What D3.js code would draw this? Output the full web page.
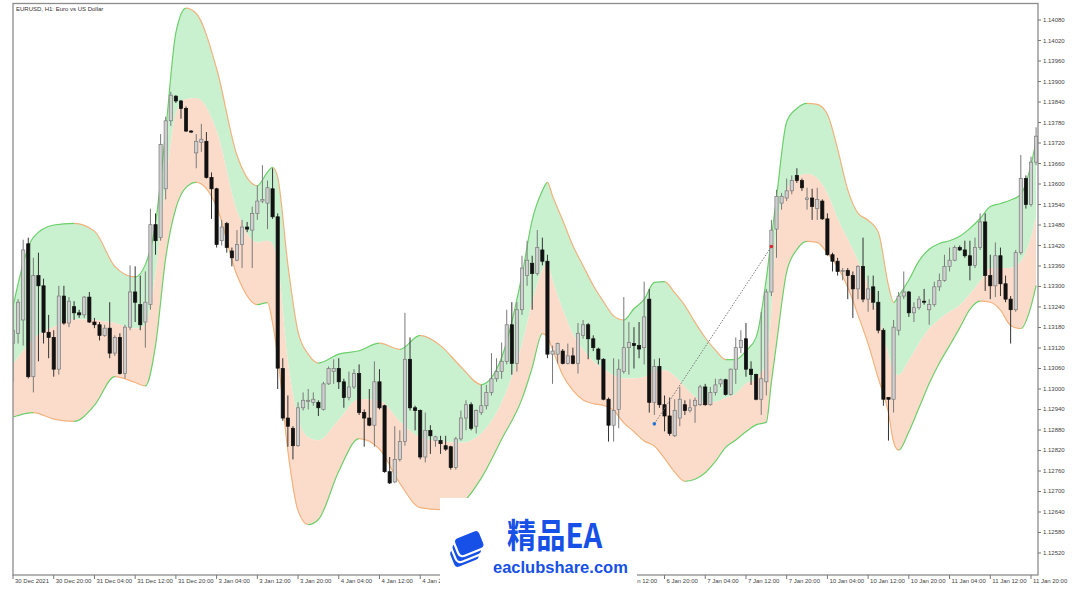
<!DOCTYPE html>
<html><head><meta charset="utf-8">
<script src="https://cdn.jsdelivr.net/npm/d3@7"></script>
<style>
body{margin:0;background:#fff;}
svg{display:block;}
</style>
</head><body>
<svg id="chart" width="1080" height="604"></svg>
<script>
// ---------- DATA (EURUSD H1) ----------
const opens=[1.13133,1.13163,1.13202,1.13425,1.13036,1.13332,1.13302,1.13166,1.13151,1.13058,
1.13272,1.13193,1.13241,1.13223,1.13217,1.13269,1.13196,1.13188,1.13157,1.13178,
1.13105,1.13151,1.13045,1.13181,1.13284,1.13247,1.13196,1.13247,1.13481,1.13443,
1.13586,1.13785,1.13857,1.13843,1.13821,1.13755,1.13691,1.13722,1.13725,1.13619,
1.13586,1.13434,1.13484,1.13404,1.13377,1.13423,1.13474,1.13465,1.13514,1.13550,
1.13544,1.13586,1.13504,1.13060,1.12915,1.12885,1.12834,1.12945,1.12964,1.12961,
1.12961,1.12940,1.13015,1.13051,1.13060,1.13021,1.12975,1.13006,1.13045,1.12931,
1.12915,1.12894,1.13021,1.12951,1.12758,1.12728,1.12794,1.12846,1.13087,1.12945,
1.12937,1.12801,1.12879,1.12849,1.12849,1.12834,1.12831,1.12770,1.12854,1.12915,
1.12954,1.12891,1.12931,1.12951,1.12990,1.13030,1.13051,1.13081,1.13188,1.13075,
1.13232,1.13332,1.13368,1.13338,1.13407,1.13374,1.13102,1.13102,1.13111,1.13075,
1.13097,1.13075,1.13157,1.13188,1.13147,1.13117,1.13087,1.12970,1.12894,1.12940,
1.13051,1.13121,1.13133,1.13127,1.13121,1.13263,1.12961,1.13066,1.12954,1.12921,
1.12863,1.12915,1.12954,1.12937,1.12951,1.12954,1.13006,1.12954,1.12990,1.13015,
1.13027,1.12984,1.13058,1.13121,1.13147,1.13058,1.13042,1.12970,1.13021,1.13284,
1.13468,1.13544,1.13559,1.13580,1.13625,1.13610,1.13555,1.13559,1.13528,1.13550,
1.13498,1.13393,1.13374,1.13344,1.13347,1.13332,1.13293,1.13359,1.13263,1.13299,
1.13254,1.13172,1.12975,1.12970,1.13172,1.13272,1.13284,1.13223,1.13238,1.13257,
1.13232,1.13247,1.13299,1.13318,1.13359,1.13377,1.13414,1.13407,1.13390,1.13362,
1.13414,1.13489,1.13332,1.13302,1.13390,1.13308,1.13263,1.13232,1.13399,1.13616,
1.13540,1.13664];
const highs=[1.13241,1.13263,1.13437,1.13443,1.13384,1.13399,1.13323,1.13217,1.13172,1.13302,
1.13302,1.13269,1.13257,1.13232,1.13272,1.13284,1.13208,1.13196,1.13188,1.13254,
1.13157,1.13163,1.13188,1.13362,1.13359,1.13332,1.13344,1.13528,1.13514,1.13746,
1.13797,1.13870,1.13860,1.13846,1.13827,1.13758,1.13746,1.13776,1.13752,1.13634,
1.13589,1.13495,1.13489,1.13414,1.13465,1.13495,1.13489,1.13534,1.13595,1.13655,
1.13610,1.13646,1.13514,1.13090,1.12981,1.12891,1.12961,1.12990,1.13000,1.12990,
1.12967,1.13021,1.13066,1.13087,1.13090,1.13030,1.13051,1.13058,1.13072,1.12940,
1.13000,1.13081,1.13058,1.12954,1.12801,1.12891,1.12879,1.13223,1.13151,1.12951,
1.12940,1.12931,1.12894,1.12863,1.12863,1.12863,1.12834,1.12860,1.12937,1.12967,
1.12961,1.12940,1.13012,1.13012,1.13105,1.13090,1.13136,1.13232,1.13254,1.13254,
1.13390,1.13434,1.13390,1.13465,1.13443,1.13393,1.13127,1.13136,1.13117,1.13133,
1.13121,1.13193,1.13202,1.13193,1.13157,1.13121,1.13090,1.12975,1.13090,1.13087,
1.13269,1.13196,1.13181,1.13196,1.13314,1.13293,1.13087,1.13090,1.12981,1.12975,
1.12970,1.13006,1.12967,1.12970,1.12975,1.13012,1.13015,1.13006,1.13030,1.13030,
1.13030,1.13060,1.13151,1.13172,1.13193,1.13081,1.13045,1.13226,1.13293,1.13495,
1.13583,1.13574,1.13616,1.13625,1.13646,1.13616,1.13589,1.13586,1.13589,1.13555,
1.13514,1.13399,1.13384,1.13354,1.13354,1.13344,1.13362,1.13443,1.13332,1.13332,
1.13287,1.13178,1.12975,1.13202,1.13284,1.13344,1.13287,1.13254,1.13272,1.13293,
1.13263,1.13314,1.13338,1.13393,1.13414,1.13420,1.13420,1.13434,1.13434,1.13443,
1.13514,1.13514,1.13393,1.13429,1.13414,1.13332,1.13272,1.13407,1.13685,1.13625,
1.13680,1.13766];
const lows=[1.13021,1.13133,1.13127,1.13031,1.12990,1.13081,1.13133,1.13090,1.13036,1.13042,
1.13188,1.13181,1.13202,1.13208,1.13208,1.13193,1.13178,1.13142,1.13153,1.13090,
1.13097,1.13042,1.13031,1.13172,1.13196,1.13172,1.13121,1.13232,1.13393,1.13434,
1.13555,1.13770,1.13837,1.13791,1.13752,1.13749,1.13646,1.13694,1.13616,1.13498,
1.13414,1.13420,1.13399,1.13359,1.13374,1.13354,1.13459,1.13354,1.13495,1.13544,
1.13468,1.13498,1.13000,1.12907,1.12831,1.12794,1.12831,1.12937,1.12940,1.12951,
1.12921,1.12937,1.13012,1.13015,1.13000,1.12945,1.12967,1.13000,1.12924,1.12831,
1.12891,1.12831,1.12940,1.12755,1.12722,1.12725,1.12788,1.12834,1.12937,1.12879,
1.12794,1.12785,1.12810,1.12831,1.12810,1.12819,1.12764,1.12764,1.12849,1.12879,
1.12879,1.12870,1.12924,1.12940,1.12981,1.13021,1.13030,1.13072,1.13042,1.13051,
1.13217,1.13302,1.13232,1.13332,1.13362,1.13090,1.13015,1.13075,1.13072,1.13072,
1.13072,1.13045,1.13147,1.13087,1.13111,1.13072,1.12967,1.12846,1.12846,1.12885,
1.13045,1.13042,1.13060,1.13090,1.13072,1.12931,1.12924,1.12945,1.12876,1.12863,
1.12860,1.12891,1.12924,1.12931,1.12901,1.12951,1.12951,1.12951,1.12981,1.13006,
1.12981,1.12981,1.13015,1.13105,1.13036,1.13012,1.12967,1.12924,1.12981,1.13272,
1.13384,1.13525,1.13550,1.13570,1.13603,1.13580,1.13525,1.13495,1.13495,1.13495,
1.13390,1.13344,1.13332,1.13318,1.13263,1.13208,1.13263,1.13254,1.13226,1.13232,
1.13163,1.12951,1.12849,1.12931,1.13157,1.13263,1.13211,1.13196,1.13232,1.13247,
1.13188,1.13241,1.13287,1.13314,1.13344,1.13374,1.13404,1.13384,1.13318,1.13354,
1.13407,1.13287,1.13263,1.13269,1.13272,1.13254,1.13133,1.13226,1.13393,1.13528,
1.13534,1.13655];
const closes=[1.13172,1.13254,1.13407,1.13036,1.13332,1.13302,1.13166,1.13151,1.13058,1.13272,
1.13193,1.13257,1.13223,1.13217,1.13269,1.13196,1.13188,1.13157,1.13178,1.13105,
1.13151,1.13045,1.13181,1.13284,1.13254,1.13188,1.13254,1.13481,1.13434,1.13716,
1.13785,1.13860,1.13843,1.13821,1.13755,1.13752,1.13725,1.13731,1.13619,1.13586,
1.13423,1.13474,1.13414,1.13384,1.13423,1.13474,1.13468,1.13514,1.13550,1.13555,
1.13589,1.13504,1.13061,1.12915,1.12891,1.12834,1.12945,1.12967,1.12967,1.12970,
1.12945,1.13015,1.13060,1.13060,1.13021,1.12975,1.13006,1.13045,1.12931,1.12915,
1.12894,1.13021,1.12945,1.12758,1.12725,1.12794,1.12846,1.13087,1.12945,1.12937,
1.12801,1.12879,1.12863,1.12860,1.12840,1.12824,1.12770,1.12854,1.12915,1.12954,
1.12885,1.12937,1.12951,1.12990,1.13030,1.13051,1.13081,1.13188,1.13075,1.13232,
1.13354,1.13377,1.13338,1.13414,1.13374,1.13102,1.13111,1.13133,1.13075,1.13097,
1.13075,1.13163,1.13188,1.13147,1.13121,1.13087,1.12970,1.12894,1.12937,1.13058,
1.13121,1.13136,1.13127,1.13117,1.13211,1.12961,1.13066,1.12954,1.12921,1.12870,
1.12937,1.12970,1.12937,1.12945,1.12967,1.13006,1.12954,1.12990,1.13012,1.13027,
1.12984,1.13058,1.13121,1.13142,1.13058,1.13042,1.12970,1.13030,1.13284,1.13465,
1.13564,1.13564,1.13580,1.13610,1.13610,1.13589,1.13559,1.13534,1.13555,1.13498,
1.13393,1.13374,1.13344,1.13347,1.13332,1.13293,1.13359,1.13263,1.13293,1.13254,
1.13172,1.12970,1.12970,1.13181,1.13272,1.13284,1.13223,1.13238,1.13263,1.13254,
1.13247,1.13299,1.13318,1.13359,1.13377,1.13414,1.13407,1.13390,1.13362,1.13414,
1.13489,1.13332,1.13302,1.13390,1.13308,1.13263,1.13232,1.13399,1.13616,1.13540,
1.13664,1.13740];

// band samples (bar index -> band value)
const bandBars=[0,4,8,12,16,20,24,26,28,30,32,34,36,40,44,48,50,51,52,54,56,58,60,64,68,72,76,80,84,88,92,96,100,102,104,105,106,108,110,112,114,116,118,120,122,124,126,128,130,132,134,136,138,140,142,144,146,148,149,150,152,154,156,158,160,162,164,166,168,170,172,173,174,176,178,180,182,184,186,188,190,192,194,196,198,200,201];
const upperBand=[1.13242,1.13444,1.13480,1.13485,1.13462,1.13359,1.13328,1.13364,1.13485,1.13756,1.14043,1.14115,1.14099,1.13938,1.13684,1.13595,1.13635,1.13649,1.13620,1.13364,1.13167,1.13102,1.13076,1.13102,1.13112,1.13134,1.13116,1.13157,1.13127,1.13065,1.13013,1.13092,1.13333,1.13494,1.13580,1.13605,1.13565,1.13494,1.13419,1.13361,1.13303,1.13256,1.13214,1.13202,1.13235,1.13262,1.13312,1.13314,1.13282,1.13244,1.13195,1.13150,1.13114,1.13086,1.13086,1.13112,1.13151,1.13323,1.13444,1.13560,1.13782,1.13821,1.13836,1.13833,1.13804,1.13703,1.13583,1.13515,1.13494,1.13459,1.13303,1.13253,1.13273,1.13319,1.13375,1.13409,1.13426,1.13434,1.13447,1.13470,1.13499,1.13534,1.13543,1.13553,1.13570,1.13656,1.13726];
const middleBand=[1.13071,1.13147,1.13182,1.13204,1.13202,1.13193,1.13177,1.13188,1.13338,1.13595,1.13807,1.13849,1.13852,1.13756,1.13522,1.13429,1.13434,1.13424,1.13373,1.13081,1.12915,1.12859,1.12850,1.12910,1.12971,1.12966,1.12905,1.12859,1.12847,1.12843,1.12870,1.12961,1.13132,1.13253,1.13349,1.13368,1.13319,1.13233,1.13162,1.13116,1.13081,1.13059,1.13040,1.13031,1.13031,1.13035,1.13052,1.13055,1.13038,1.13006,1.12977,1.12961,1.12963,1.12974,1.12986,1.13016,1.13031,1.13076,1.13233,1.13464,1.13580,1.13619,1.13630,1.13617,1.13572,1.13499,1.13438,1.13375,1.13303,1.13212,1.13102,1.13049,1.13041,1.13084,1.13134,1.13176,1.13204,1.13226,1.13245,1.13278,1.13316,1.13354,1.13354,1.13355,1.13373,1.13444,1.13504];
const lowerBand=[1.12918,1.12931,1.12912,1.12905,1.12952,1.13036,1.13019,1.13009,1.13127,1.13384,1.13529,1.13590,1.13605,1.13534,1.13333,1.13247,1.13253,1.13193,1.13097,1.12819,1.12644,1.12603,1.12618,1.12759,1.12855,1.12824,1.12724,1.12653,1.12647,1.12664,1.12739,1.12853,1.12971,1.13062,1.13162,1.13151,1.13116,1.13041,1.12996,1.12968,1.12957,1.12952,1.12938,1.12901,1.12875,1.12848,1.12833,1.12797,1.12757,1.12730,1.12736,1.12755,1.12788,1.12829,1.12851,1.12875,1.12895,1.12903,1.13021,1.13132,1.13343,1.13408,1.13432,1.13429,1.13397,1.13357,1.13298,1.13217,1.13132,1.13031,1.12931,1.12845,1.12821,1.12875,1.12945,1.13016,1.13076,1.13127,1.13179,1.13233,1.13257,1.13254,1.13231,1.13186,1.13177,1.13242,1.13303];

// trade (entry/exit)
const tradeBars=[126,149];
const tradePrices=[1.12898,1.13417];

// axis ticks
const priceTicks=[1.12520,1.12580,1.12640,1.12700,1.12760,1.12820,1.12880,1.12940,1.13000,1.13060,1.13120,1.13180,1.13240,1.13300,1.13360,1.13420,1.13480,1.13540,1.13600,1.13660,1.13720,1.13780,1.13840,1.13900,1.13960,1.14020,1.14080];
const timeTickBars=[0,8,16,24,32,40,48,56,64,72,80,88,96,104,112,120,128,136,144,152,160,168,176,184,192,200];
const timeTickLabels=["30 Dec 2021","30 Dec 20:00","31 Dec 04:00","31 Dec 12:00","31 Dec 20:00","3 Jan 04:00","3 Jan 12:00","3 Jan 20:00","4 Jan 04:00","4 Jan 12:00","4 Jan 20:00","5 Jan 04:00","5 Jan 12:00","5 Jan 20:00","6 Jan 04:00","6 Jan 12:00","6 Jan 20:00","7 Jan 04:00","7 Jan 12:00","7 Jan 20:00","10 Jan 04:00","10 Jan 12:00","10 Jan 20:00","11 Jan 04:00","11 Jan 12:00","11 Jan 20:00"];
const title="EURUSD, H1:  Euro vs US Dollar";

// ---------- DRAW ----------
const svg=d3.select("#chart");
const L=13,R=1038,T=3.5,B=575;
const x=d3.scaleLinear().domain([0,200]).range([13,1031]);
const y=d3.scaleLinear().domain([1.124556,1.141283]).range([575,3.5]);
const font="'Liberation Sans', Arial, sans-serif";

const defs=svg.append("defs");
defs.append("clipPath").attr("id","plotclip").append("rect")
  .attr("x",L).attr("y",T).attr("width",R-L).attr("height",B-T);

const plot=svg.append("g").attr("clip-path","url(#plotclip)");
const bands=bandBars.map((b,i)=>({b,u:upperBand[i],m:middleBand[i],l:lowerBand[i]}));
const curve=d3.curveMonotoneX;

plot.append("path").datum(bands)
  .attr("d",d3.area().x(d=>x(d.b)).y0(d=>y(d.m)).y1(d=>y(d.u)).curve(curve))
  .attr("fill","#c9f0cf");
plot.append("path").datum(bands)
  .attr("d",d3.area().x(d=>x(d.b)).y0(d=>y(d.l)).y1(d=>y(d.m)).curve(curve))
  .attr("fill","#fbdcca");

const GREEN="#6ccf6c", ORANGE="#f2b27e";
function slopeGradient(id,key){
  const x0=x(bandBars[0]), x1=x(bandBars[bandBars.length-1]);
  const g=defs.append("linearGradient").attr("id",id)
    .attr("gradientUnits","userSpaceOnUse")
    .attr("x1",x0).attr("x2",x1).attr("y1",0).attr("y2",0);
  for(let i=0;i<bands.length-1;i++){
    const c=bands[i+1][key]>=bands[i][key]?GREEN:ORANGE;
    g.append("stop").attr("offset",(x(bands[i].b)-x0)/(x1-x0)).attr("stop-color",c);
    g.append("stop").attr("offset",(x(bands[i+1].b)-x0)/(x1-x0)).attr("stop-color",c);
  }
}
slopeGradient("gu","u");
slopeGradient("gl","l");
plot.append("path").datum(bands)
  .attr("d",d3.line().x(d=>x(d.b)).y(d=>y(d.u)).curve(curve))
  .attr("fill","none").attr("stroke","url(#gu)").attr("stroke-width",1.2);
plot.append("path").datum(bands)
  .attr("d",d3.line().x(d=>x(d.b)).y(d=>y(d.l)).curve(curve))
  .attr("fill","none").attr("stroke","url(#gl)").attr("stroke-width",1.2);

// candles
const candles=opens.map((o,i)=>({i,o,h:highs[i],l:lows[i],c:closes[i]}));
const cg=plot.append("g");
cg.selectAll("line.wick").data(candles).join("line")
  .attr("x1",d=>x(d.i)).attr("x2",d=>x(d.i))
  .attr("y1",d=>y(d.h)).attr("y2",d=>y(d.l))
  .attr("stroke",d=>d.c>=d.o?"#7a7a7a":"#333").attr("stroke-width",1);
cg.selectAll("rect.body").data(candles).join("rect")
  .attr("x",d=>x(d.i)-1.6).attr("width",3.2)
  .attr("y",d=>y(Math.max(d.o,d.c)))
  .attr("height",d=>Math.max(1,Math.abs(y(d.o)-y(d.c))))
  .attr("fill",d=>d.c>=d.o?"#cfcfcf":"#111")
  .attr("stroke",d=>d.c>=d.o?"#7a7a7a":"#111").attr("stroke-width",0.7);

// trade line
plot.append("line")
  .attr("x1",x(tradeBars[0])).attr("y1",y(tradePrices[0]))
  .attr("x2",x(tradeBars[1])).attr("y2",y(tradePrices[1]))
  .attr("stroke","#777").attr("stroke-width",1).attr("stroke-dasharray","1.5,1.5");
plot.append("circle").attr("cx",x(tradeBars[0])).attr("cy",y(tradePrices[0])).attr("r",1.8).attr("fill","#1f74d6");
plot.append("circle").attr("cx",x(tradeBars[1])).attr("cy",y(tradePrices[1])).attr("r",1.8).attr("fill","#e02828");

// frame
svg.append("rect").attr("x",L).attr("y",T).attr("width",R-L).attr("height",B-T)
  .attr("fill","none").attr("stroke","#8c8c8c").attr("stroke-width",1.3);

// title
svg.append("text").attr("x",16).attr("y",11).text(title)
  .attr("font-family",font).attr("font-size",6).attr("fill","#333");

// right axis
const ra=svg.append("g");
priceTicks.forEach(p=>{
  ra.append("line").attr("x1",R).attr("x2",R+3).attr("y1",y(p)).attr("y2",y(p)).attr("stroke","#777");
  ra.append("text").attr("x",R+5).attr("y",y(p)+2).text(p.toFixed(5))
    .attr("font-family",font).attr("font-size",6).attr("fill","#444");
});
// bottom axis
const ba=svg.append("g");
timeTickBars.forEach((b,i)=>{
  ba.append("line").attr("x1",x(b)).attr("x2",x(b)).attr("y1",B).attr("y2",B+4).attr("stroke","#777");
  ba.append("text").attr("x",x(b)+2).attr("y",B+7.5).text(timeTickLabels[i])
    .attr("font-family",font).attr("font-size",6).attr("fill","#444");
});

// watermark
const wm=svg.append("g");
wm.append("rect").attr("x",440).attr("y",498).attr("width",197).attr("height",106).attr("fill","#fff");
const blue="#1650e6";
const icon=wm.append("g").attr("transform","translate(470,545) rotate(-22)");
[[-9,9],[-4.5,4.5],[0,0]].forEach(([dx,dy])=>{
  icon.append("rect").attr("x",-14+dx).attr("y",-12+dy).attr("width",28).attr("height",20).attr("rx",5)
    .attr("fill",blue).attr("stroke","#fff").attr("stroke-width",2.2);
});
wm.append("g").attr("transform","translate(507,548) scale(0.86,1)")
  .append("text").attr("x",0).attr("y",0).text("精品EA")
  .attr("font-family","'Noto Sans CJK SC', sans-serif").attr("font-weight",700)
  .attr("font-size",34).attr("fill",blue);
wm.append("text").attr("x",493).attr("y",573).text("eaclubshare.com")
  .attr("font-family","'Liberation Sans', Arial, sans-serif").attr("font-weight",700)
  .attr("font-size",16.5).attr("fill",blue);
</script>
</body></html>
